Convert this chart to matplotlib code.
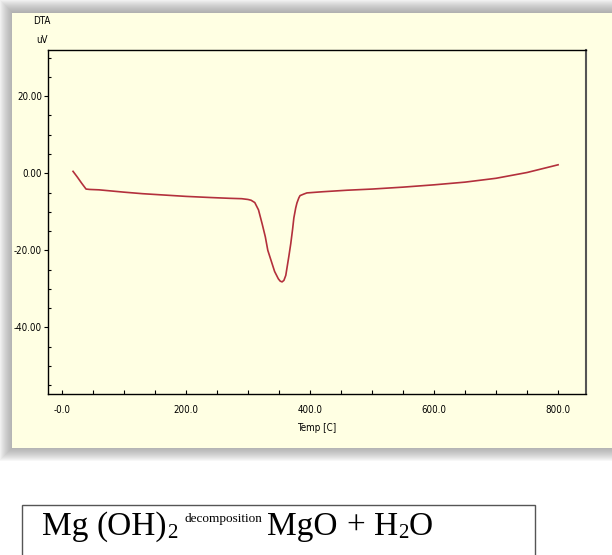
import matplotlib
matplotlib.use("Agg")
import matplotlib.pyplot as plt
from matplotlib.patches import Rectangle
from matplotlib.ticker import MultipleLocator, FormatStrFormatter

# ---- data ----
temp_c = [18, 25, 32, 39, 45, 60, 80, 100, 130, 160, 200, 240, 270, 290, 300, 305,
          311, 317, 323, 328, 332, 338, 343, 349, 352, 355, 358, 361, 363, 366, 369,
          372, 374, 377, 379, 382, 384, 390, 395, 420, 460, 500, 550, 600, 650, 700,
          750, 800]
dta_uv = [0.5, -1.0, -2.6, -4.1, -4.2, -4.3, -4.6, -4.9, -5.3, -5.6, -6.0, -6.3, -6.5,
          -6.6, -6.8, -7.0, -7.6, -9.5, -13.2, -16.5, -20.0, -23.0, -25.5, -27.4, -28.0,
          -28.2, -27.8, -26.5, -24.5, -21.5, -18.3, -14.5, -11.6, -9.0, -7.7, -6.4, -5.8,
          -5.4, -5.1, -4.8, -4.4, -4.1, -3.6, -3.0, -2.3, -1.3, 0.2, 2.2]
x_ticks = [0, 200, 400, 600, 800]
x_labels = ["-0.0", "200.0", "400.0", "600.0", "800.0"]
y_ticks = [20, 0, -20, -40]

W, H = 612, 555
fig = plt.figure(figsize=(W / 100, H / 100), dpi=100)
fig.patch.set_facecolor("white")

cream = "#FFFFE3"
def fx(px):
    return px / W
def fy(py):
    return 1 - py / H

# shadow gradient
for i in range(14):
    fig.patches.append(Rectangle((fx(12 - i), fy(448 + i)), fx(600 + 2 * i), (448 - 12 + 2 * i) / H,
                                 transform=fig.transFigure, facecolor="#808080", alpha=0.06,
                                 edgecolor="none", zorder=0))
fig.patches.append(Rectangle((fx(12), fy(448)), fx(612 - 12), (448 - 13) / H,
                             transform=fig.transFigure, facecolor=cream,
                             edgecolor="none", zorder=1))

ax = fig.add_axes([fx(47.6), fy(394), fx(586 - 47.6), (394 - 50) / H])
ax.set_zorder(5)
ax.set_facecolor(cream)
ax.plot(temp_c, dta_uv, color="#B3303C", lw=1.2)
ax.set_xlim(-23, 845)
ax.set_ylim(-57.3, 32)

tick_font = dict(family=["DejaVu Sans"], size=7, stretch="condensed")
ax.set_xticks(x_ticks)
ax.set_xticklabels(x_labels, fontdict=tick_font)
ax.set_yticks(y_ticks)
ax.yaxis.set_major_formatter(FormatStrFormatter("%.2f"))
for lab in ax.get_yticklabels():
    lab.set_fontfamily(["DejaVu Sans"])
    lab.set_fontstretch("condensed")
    lab.set_fontsize(7)
ax.xaxis.set_minor_locator(MultipleLocator(50))
ax.yaxis.set_minor_locator(MultipleLocator(5))
ax.tick_params(axis="x", which="both", direction="in", length=3, width=0.8, pad=8)
ax.tick_params(axis="y", which="major", direction="out", length=3, width=0.8, pad=1)
ax.tick_params(axis="y", which="minor", direction="in", length=2, width=0.8)
for s in ax.spines.values():
    s.set_linewidth(1.0)
    s.set_color("black")
ax.spines["right"].set_color("#555555")
ax.spines["right"].set_linewidth(1.5)

ax.set_xlabel("Temp [C]", fontdict=tick_font, labelpad=6)
fig.text(fx(42), fy(21), "DTA", ha="center", va="center", zorder=6, **tick_font)
fig.text(fx(42), fy(40), "uV", ha="center", va="center", zorder=6, **tick_font)

# equation box
fig.patches.append(Rectangle((fx(21.5), fy(560)), fx(535 - 21.5), (560 - 505) / H,
                             transform=fig.transFigure, facecolor="white",
                             edgecolor="#555555", lw=1.0, zorder=2, clip_on=False))

serif = ["Liberation Serif", "DejaVu Serif"]
renderer = fig.canvas.get_renderer()
base_px = 535
# (text, size, baseline offset px, gap after px)
parts = [("Mg", 24, 0, 8), ("(OH)", 24, 0, 0), ("2", 15, -3, 7),
         ("decomposition", 9.5, 13, 5), ("MgO", 24, 0, 9), ("+", 24, 0, 9),
         ("H", 24, 0, 0), ("2", 15, -3, 0), ("O", 24, 0, 0)]
xpos = 42
for txt, size, dy, gap in parts:
    t = fig.text(fx(xpos), fy(base_px - dy), txt, family=serif, size=size,
                 ha="left", va="baseline", zorder=3)
    bb = t.get_window_extent(renderer)
    xpos = bb.x1 + gap

fig.savefig("out.png", dpi=100)
